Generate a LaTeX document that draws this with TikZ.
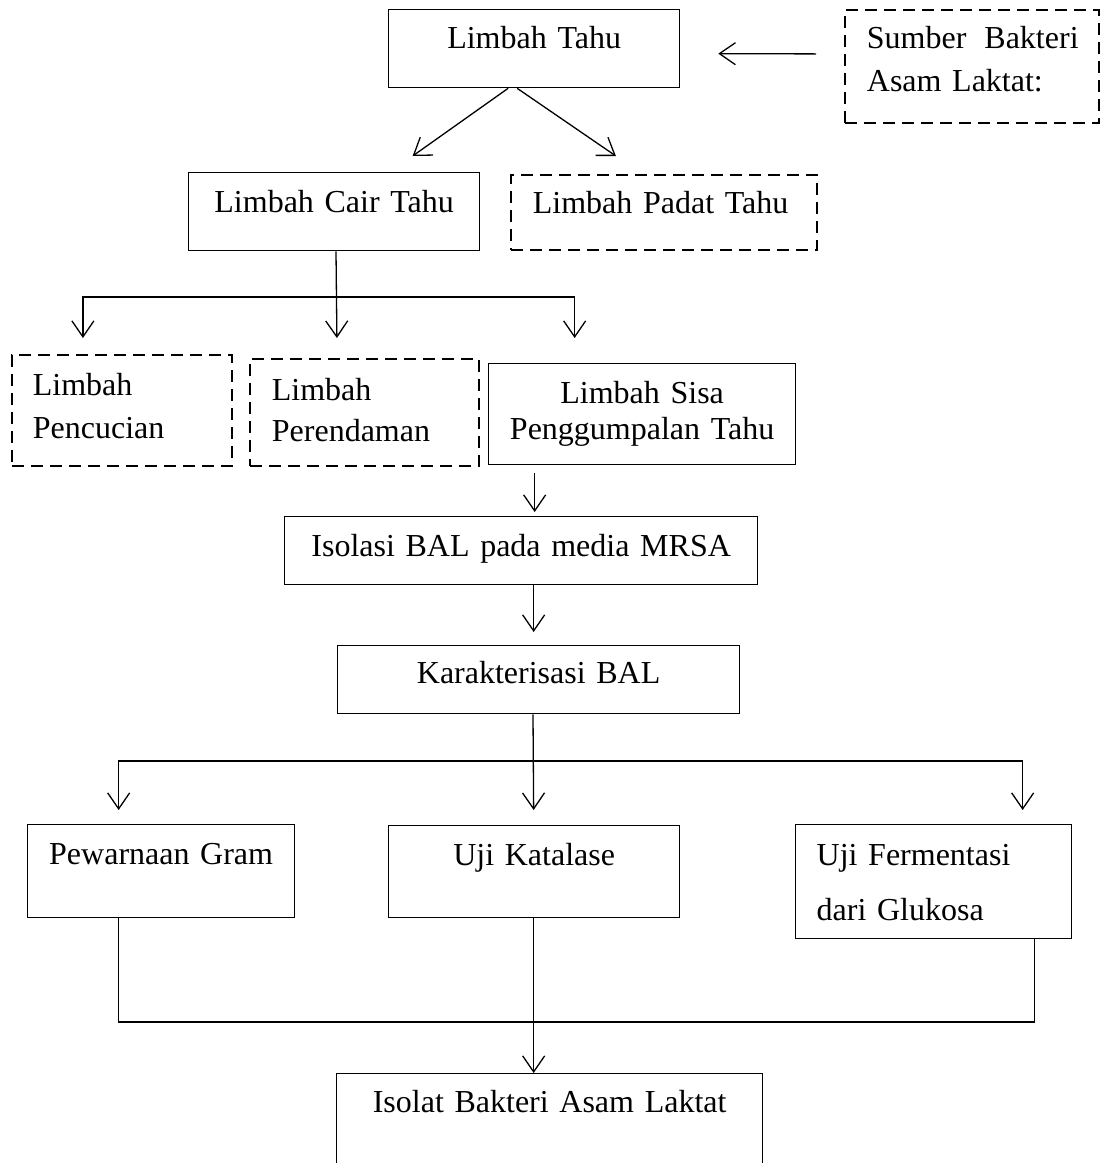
\documentclass[tikz,border=0pt]{standalone}
\usepackage{fontspec}
\setmainfont{Liberation Serif}
\usetikzlibrary{arrows.meta}
\tikzset{
 box/.style = {%
    shape=rectangle,
    draw=black,
    line width=1.3pt,
    anchor=north west,
    inner sep=0pt,
    align=center,
    font=\fontsize{32}{43}\selectfont},
 dbox/.style = {%
    box,
    line width=1.8pt,
    dash pattern=on 12pt off 7pt,
    align=left,
    inner xsep=22pt},
 arrow/.style = {%
    draw,
    line width=1.3pt,
    -{Straight Barb[length=16pt, width=22pt]}},
 link/.style = {draw, line width=1.3pt},
    }

\begin{document}
\begin{tikzpicture}[x=1pt, y=-1pt]
    \useasboundingbox (0,0) rectangle (1100,1163);
    % boxes
    \node[box, text width=291pt, text height=39pt, text depth=39pt] (tahu) at (388,9) {Limbah Tahu};
    \node[dbox, text width=210pt, text height=39pt, text depth=74pt] (sumber) at (844,9)
        {\mbox{Sumber\hspace{18pt}Bakteri}\\Asam Laktat:};
    \node[box, text width=291pt, text height=40pt, text depth=38pt] (cair) at (188,172) {Limbah Cair Tahu};
    \node[dbox, text width=262pt, text height=39pt, text depth=36pt] (padat) at (510,174) {Limbah Padat Tahu};
    \node[dbox, inner xsep=21pt, text width=178pt, text height=41pt, text depth=70pt] (cuci) at (11,354)
        {Limbah\\Pencucian};
    \node[dbox, text width=185pt, text height=42pt, text depth=65pt] (rendam) at (249,358)
        {Limbah\\[-2pt]Perendaman};
    \node[box, text width=307pt, text height=40pt, text depth=61pt] (sisa) at (488,363)
        {Limbah Sisa\\[-7pt]Penggumpalan Tahu};
    \node[box, text width=473pt, text height=40pt, text depth=28pt] (isolasi) at (284,516) {Isolasi BAL pada media MRSA};
    \node[box, text width=402pt, text height=38pt, text depth=30pt] (karakter) at (337,645) {Karakterisasi BAL};
    \node[box, text width=267pt, text height=40pt, text depth=53pt] (gram) at (27,824) {Pewarnaan Gram};
    \node[box, text width=291pt, text height=40pt, text depth=52pt] (katalase) at (388,825) {Uji Katalase};
    \node[box, align=left, inner xsep=21pt, text width=234pt, text height=41pt, text depth=73pt] (fermen) at (795,824)
        {Uji Fermentasi\\[12pt]dari Glukosa};
    \node[box, text width=426pt, text height=39pt, text depth=78pt] (isolat) at (336,1073) {Isolat Bakteri Asam Laktat};

    % connectors
    \draw[arrow] ([xshift=-28pt, yshift=12.5pt]sumber.west) -- ([xshift=38pt, yshift=-5pt]tahu.east);
    \draw[arrow] ([xshift=-26pt]tahu.south) -- ([xshift=78.5pt, yshift=16pt]cair.north);
    \draw[arrow] ([xshift=-17pt]tahu.south) -- ([xshift=-48pt, yshift=18pt]padat.north);

    \coordinate (j1) at (336,297);
    \draw[arrow] (cair.south -| j1) -- ([xshift=-27.5pt, yshift=20pt]rendam.north);
    \draw[arrow] (j1) -| ([xshift=-39pt, yshift=16pt]cuci.north);
    \draw[arrow] (j1) -| ([xshift=-67.5pt, yshift=25pt]sisa.north);

    \draw[arrow] ([xshift=-107.5pt, yshift=-8pt]sisa.south) -- ([xshift=13.5pt, yshift=4pt]isolasi.north);
    \draw[arrow] ([xshift=12.5pt]isolasi.south) -- ([xshift=-5pt, yshift=13pt]karakter.north);

    \coordinate (j2) at (533,761);
    \draw[arrow] (karakter.south -| j2) -- ([xshift=-0.5pt, yshift=15pt]katalase.north);
    \draw[arrow] (j2) -| ([xshift=-42.5pt, yshift=14pt]gram.north);
    \draw[arrow] (j2) -| ([xshift=89pt, yshift=14pt]fermen.north);

    \coordinate (j3) at (533,1022);
    \draw[link] ([xshift=-42.5pt]gram.south) |- (j3) -| ([xshift=101pt]fermen.south);
    \draw[arrow] ([xshift=-0.5pt]katalase.south) -- ([xshift=-16pt]isolat.north);
\end{tikzpicture}
\end{document}
